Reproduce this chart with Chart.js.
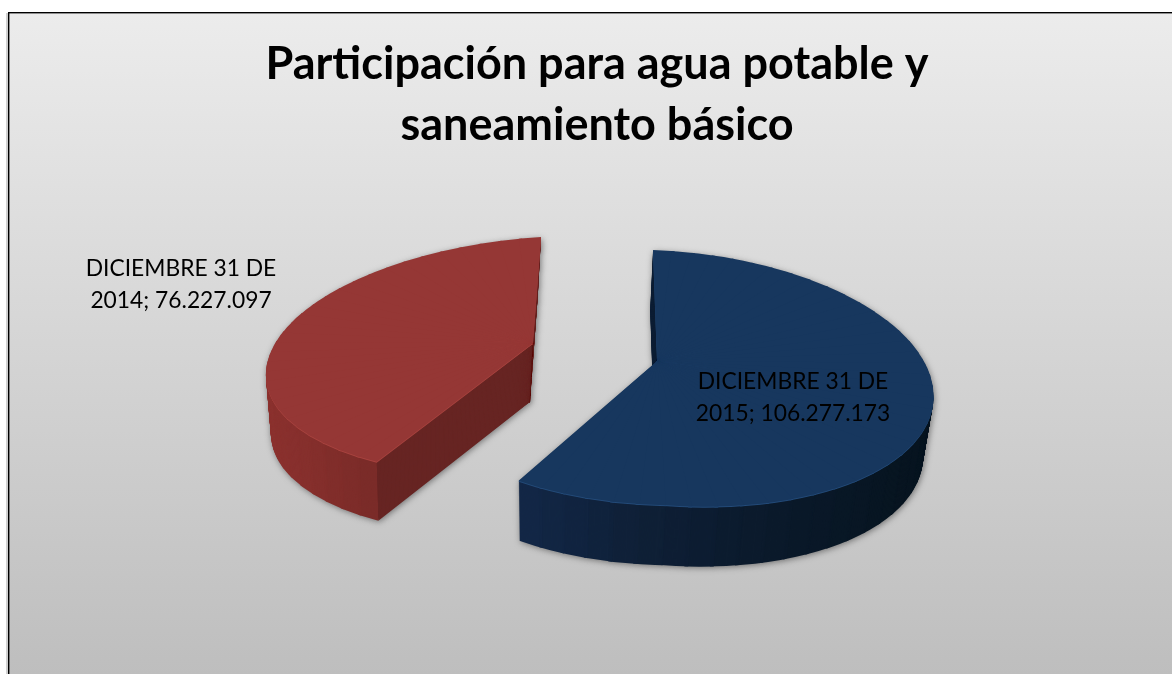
<!DOCTYPE html>
<html><head><meta charset="utf-8">
<style>html,body{margin:0;padding:0;background:#fff}canvas{display:block}</style>
<script src="https://cdn.jsdelivr.net/npm/chart.js@4"></script>
</head><body><canvas id="c" width="1172" height="674"></canvas>
<script>
const titleLines = ['Participación para agua potable y', 'saneamiento básico'];
const categories = ['DICIEMBRE 31 DE 2015', 'DICIEMBRE 31 DE 2014'];
const seriesValues = [106277173, 76227097];
const sliceColors = ['#17375e', '#953735'];

const FONT = 'Lato, Carlito, "Open Sans", sans-serif';
const R = 200;
// perspective view of each exploded slice: the angles always come from the library's arcs
const views = [
  {tx:657, ty:361, sx:261, g:-0.045, h:-0.136, c:4.5, dU:126, dD:124.5, mL:0, mR:14,
   depth:60, dxEnd:-3, kEnd:0.027, rim:'#234a78',
   side:[[500,'#14294a'],[640,'#0f2037'],[780,'#0b1a2b'],[940,'#07141f']], cut:null},
  {tx:533, ty:343, sx:272, g:-0.03, h:-0.12, c:-9, dU:118.7, dD:116.5, mL:-14, mR:-14,
   depth:59, dxEnd:-3, kEnd:0.03, rim:'#a8433f',
   side:[[265,'#8c322f'],[375,'#7a2b29']], cut:'#672523'}
];
const labelBoxes = [ {x:793, y:382}, {x:181, y:269} ];
const labelSize = 22.8, labelLeading = 32;
const WEDGE = 5 * Math.PI / 180;

function fmt(v){ return String(v).replace(/\B(?=(\d{3})+$)/g,'.'); }
function labelLines(i){
  const parts = categories[i].split(' ');
  const tail = parts.pop();
  return [parts.join(' '), tail + '; ' + fmt(seriesValues[i])];
}
function project(v, a){
  const X = Math.cos(a), Y = Math.sin(a);
  const w = 1 + v.g * X + v.h * Y;
  const m = X < 0 ? v.mL : v.mR, d = Y < 0 ? v.dU : v.dD;
  return [(v.sx * X + v.c * Y) / w, (m * X + d * Y) / w];
}
function sideColor(stops, x){
  if (x <= stops[0][0]) return stops[0][1];
  for (let i = 1; i < stops.length; i++){
    if (x <= stops[i][0]){
      const f = (x - stops[i-1][0]) / (stops[i][0] - stops[i-1][0]);
      const ch = (s,p) => parseInt(s.substr(p,2),16);
      const mix = p => Math.round(ch(stops[i-1][1],p) * (1-f) + ch(stops[i][1],p) * f);
      return 'rgb(' + mix(1) + ',' + mix(3) + ',' + mix(5) + ')';
    }
  }
  return stops[stops.length-1][1];
}
function paintArc(ctx, arc, fill){
  const saved = arc.options;
  arc.options = Object.assign({}, saved, {backgroundColor: fill, borderWidth: 0});
  arc.draw(ctx);
  arc.options = saved;
}
function paintWedge(ctx, arc, v, a1, a2, t, fill, clip){
  const f = t / v.depth, k = 1 - v.kEnd * f;
  const p1 = project(v, a1), p2 = project(v, a2);
  const det = R * Math.sin(a2 - a1);
  const s1 = Math.sin(a1), s2 = Math.sin(a2), c1 = Math.cos(a1), c2 = Math.cos(a2);
  const A11 = (p1[0]*s2 - p2[0]*s1)/det, A12 = (-p1[0]*c2 + p2[0]*c1)/det;
  const A21 = (p1[1]*s2 - p2[1]*s1)/det, A22 = (-p1[1]*c2 + p2[1]*c1)/det;
  ctx.save();
  if (clip){ ctx.beginPath(); ctx.rect(clip[0], 0, clip[1] - clip[0], 674); ctx.clip(); }
  ctx.translate(v.tx + v.dxEnd * f, v.ty + t);
  ctx.scale(k, 1);
  ctx.transform(A11, A21, A12, A22, 0, 0);
  const e = 0.006, far = 3 * R, mid = (a1 + a2) / 2, back = 4;
  ctx.beginPath();
  ctx.moveTo(-back*Math.cos(mid), -back*Math.sin(mid));
  ctx.lineTo(far*Math.cos(a1-e), far*Math.sin(a1-e));
  ctx.lineTo(far*Math.cos(a2+e), far*Math.sin(a2+e));
  ctx.closePath();
  ctx.clip();
  ctx.translate(-arc.x, -arc.y);
  paintArc(ctx, arc, fill);
  ctx.restore();
}
function wedgesOf(arc){
  const n = Math.ceil((arc.endAngle - arc.startAngle) / WEDGE), out = [];
  for (let j = 0; j < n; j++){
    out.push([arc.startAngle + (arc.endAngle - arc.startAngle) * j / n,
              arc.startAngle + (arc.endAngle - arc.startAngle) * (j + 1) / n]);
  }
  return out;
}
function paintFace(ctx, arc, v, t, fill){
  wedgesOf(arc).forEach(w => paintWedge(ctx, arc, v, w[0], w[1], t, fill, null));
}
function paintSide(ctx, arc, v, t){
  const ws = wedgesOf(arc), f = t / v.depth, k = 1 - v.kEnd * f;
  const bound = v.tx + v.dxEnd * f + project(v, arc.startAngle)[0] * k;
  ws.forEach(w => {
    const mid = v.tx + project(v, (w[0] + w[1]) / 2)[0];
    paintWedge(ctx, arc, v, w[0], w[1], t, sideColor(v.side, mid), v.cut ? [0, bound] : null);
    if (v.cut) paintWedge(ctx, arc, v, w[0], w[1], t, v.cut, [bound, 1172]);
  });
}

const pie3d = {
  id:'pie3d',
  beforeDraw(chart){
    const {ctx, width, height} = chart;
    ctx.save();
    ctx.fillStyle = '#fff'; ctx.fillRect(0,0,width,height);
    const g = ctx.createLinearGradient(0,12,0,height);
    g.addColorStop(0,'#ececec'); g.addColorStop(1,'#bebebe');
    ctx.fillStyle = g; ctx.fillRect(8,12,width-8,height-12);
    ctx.fillStyle = '#000';
    ctx.fillRect(8,12,width-8,1.4);
    ctx.fillRect(8,12,1.4,height-12);
    ctx.fillStyle = 'rgba(120,120,120,0.35)';
    ctx.fillRect(6,13,2,height-13);
    ctx.restore();
  },
  beforeDatasetDraw(chart, args){
    const ctx = chart.ctx;
    const layer = document.createElement('canvas');
    layer.width = chart.width; layer.height = chart.height;
    const lc = layer.getContext('2d');
    args.meta.data.forEach((arc,i)=>{
      const v = views[i];
      lc.clearRect(0,0,layer.width,layer.height);
      for (let t = v.depth; t > 0; t--) paintSide(lc, arc, v, t);
      ctx.save();
      ctx.shadowColor = 'rgba(50,50,50,0.6)'; ctx.shadowBlur = 6;
      ctx.shadowOffsetX = 1; ctx.shadowOffsetY = 1;
      ctx.drawImage(layer, 0, 0);
      ctx.restore();
      paintFace(ctx, arc, v, 1, v.rim);
      paintFace(ctx, arc, v, 0, sliceColors[i]);
    });
    return false;
  },
  afterDraw(chart){
    const ctx = chart.ctx;
    ctx.save();
    ctx.fillStyle = '#000';
    ctx.font = labelSize + 'px ' + FONT;
    ctx.textAlign = 'center'; ctx.textBaseline = 'middle';
    labelBoxes.forEach((b,i)=>{
      labelLines(i).forEach((s,j)=> ctx.fillText(s, b.x, b.y + j*labelLeading));
    });
    ctx.restore();
  }
};

new Chart(document.getElementById('c'), {
  type:'pie',
  data:{labels:categories, datasets:[{data:seriesValues, backgroundColor:sliceColors, borderWidth:0, clip:false}]},
  plugins:[pie3d],
  options:{
    responsive:false, animation:false, events:[], radius:R, rotation:0,
    layout:{padding:{left:22}},
    plugins:{
      legend:{display:false}, tooltip:{enabled:false},
      title:{display:true, text:titleLines, color:'#000',
        font:{family:FONT, size:45, weight:'bold', lineHeight:1.356}, padding:{top:34,bottom:10}}
    }
  }
});
</script></body></html>
